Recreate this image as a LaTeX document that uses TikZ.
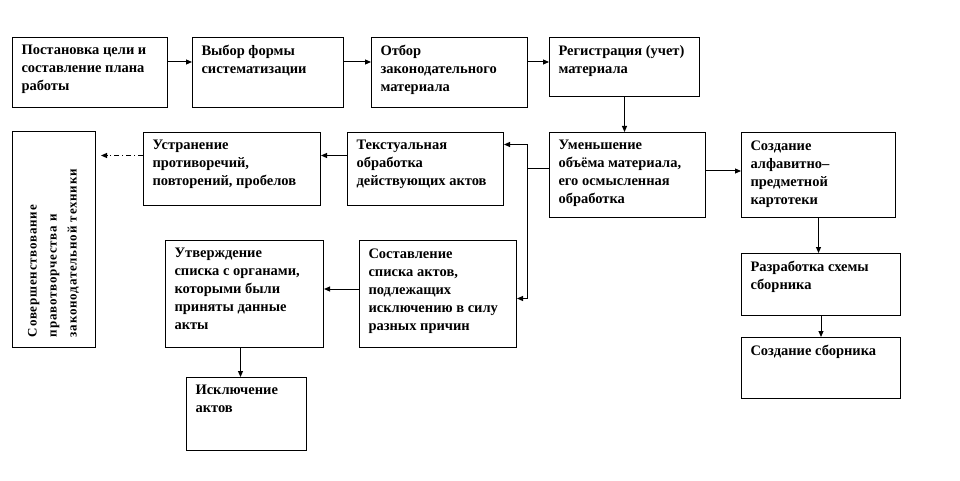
\documentclass[tikz,border=0pt]{standalone}
\usepackage{fontspec}
\setmainfont{Liberation Serif}
\newfontfamily\spacedfont[LetterSpace=6]{Liberation Serif}
\usetikzlibrary{arrows.meta,calc}
\newcommand{\blktext}[3]{\parbox[t][#2][t]{#1}{\raggedright #3}}

\begin{document}
\begin{tikzpicture}[x=1pt,y=1pt,line width=1pt,
    blk/.style={draw, anchor=north west, inner xsep=9pt, inner ysep=8pt,
      font=\bfseries\fontsize{14.5}{18}\selectfont},
    arr/.style={-{Triangle[length=6pt,width=5pt]}}]
  \useasboundingbox (0,0) rectangle (960,480);
  % top row
  \node[blk] (post) at (12,443) {\blktext{137pt}{54pt}{Постановка цели и\\составление плана\\работы}};
  \node[blk] (vybor) at (192,443) {\blktext{133pt}{54pt}{Выбор формы\\систематизации}};
  \node[blk] (otbor) at (371,443) {\blktext{138pt}{54pt}{Отбор\\законодательного\\материала}};
  \node[blk] (reg) at (549,443) {\blktext{132pt}{43pt}{Регистрация (учет)\\материала}};
  % second row
  \node[blk] (umen) at (549,348) {\blktext{138pt}{69pt}{Уменьшение\\объёма материала,\\его осмысленная\\обработка}};
  \node[blk] (alf) at (741,348) {\blktext{136pt}{69pt}{Создание\\алфавитно–\\предметной\\картотеки}};
  \node[blk] (tekst) at (347,348) {\blktext{138pt}{57pt}{Текстуальная\\обработка\\действующих актов}};
  \node[blk] (ustr) at (143,348) {\blktext{159pt}{57pt}{Устранение\\противоречий,\\повторений, пробелов}};
  \node[draw, rotate=90, minimum width=215pt, minimum height=83pt, text width=195pt,
    inner xsep=10pt, align=left, font=\spacedfont\bfseries\fontsize{13}{20}\selectfont]
    (sov) at (53.5,240.5) {Совершенствование\\правотворчества и\\законодательной техники};
  % lower rows
  \node[blk] (sost) at (359,240) {\blktext{139pt}{91pt}{Составление\\списка актов,\\подлежащих\\исключению в силу\\разных причин}};
  \node[blk] (utv) at (165,240) {\blktext{140pt}{91pt}{Утверждение\\списка с органами,\\которыми были\\приняты данные\\акты}};
  \node[blk] (iskl) at (186,103) {\blktext{102pt}{57pt}{Исключение\\актов}};
  \node[blk] (razr) at (741,227) {\blktext{141pt}{46pt}{Разработка схемы\\сборника}};
  \node[blk] (sozd) at (741,143) {\blktext{141pt}{45pt}{Создание сборника}};
  % connectors
  \draw[arr] ([yshift=-25pt]post.north east) -- ([yshift=-25pt]vybor.north west);
  \draw[arr] ([yshift=-25pt]vybor.north east) -- ([yshift=-25pt]otbor.north west);
  \draw[arr] ([yshift=-25pt]otbor.north east) -- ([yshift=-25pt]reg.north west);
  \draw[arr] (reg.south) -- (reg.south |- umen.north);
  \draw[arr] ([yshift=4pt]umen.east) -- ([yshift=4pt]alf.west);
  \coordinate (j) at ($(umen.west)+(-22,6.5)$);
  \draw ([yshift=6.5pt]umen.west) -- (j);
  \draw[arr] (j) |- ([yshift=24.5pt]tekst.east);
  \draw[arr] (j) |- ([yshift=-4.5pt]sost.east);
  \draw[arr] ([yshift=13.5pt]tekst.west) -- ([yshift=13.5pt]ustr.east);
  \draw[arr, dash pattern=on 5pt off 3pt on 1pt off 3pt] ([yshift=13.5pt]ustr.west) -- ([xshift=-42pt,yshift=13.5pt]ustr.west);
  \draw[arr] ([yshift=5pt]sost.west) -- ([yshift=5pt]utv.east);
  \draw[arr] ([xshift=-4pt]utv.south) -- ($(utv.south |- iskl.north)+(-4,0)$);
  \draw[arr] (alf.south) -- (alf.south |- razr.north);
  \draw[arr] (razr.south) -- (razr.south |- sozd.north);
\end{tikzpicture}
\end{document}
